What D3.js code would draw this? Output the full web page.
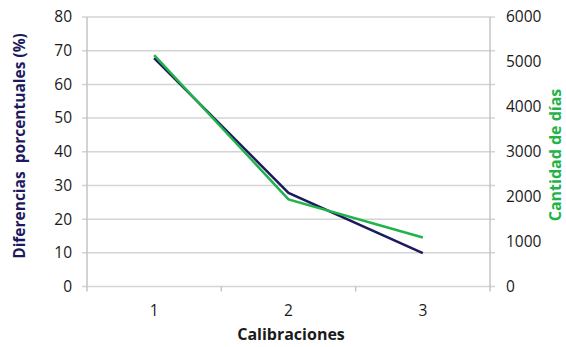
<!DOCTYPE html>
<html>
<head>
<meta charset="utf-8">
<script src="https://cdn.jsdelivr.net/npm/d3@7"></script>
<style>
  html, body { margin: 0; padding: 0; background: #fff; }
  svg { display: block; font-family: "Open Sans", "Noto Sans", sans-serif; }
</style>
</head>
<body>
<svg id="chart" width="566" height="347"></svg>
<script>
// Calibration rounds and the two measured series
const categories = ["1", "2", "3"];
const diffPercent = [67.8, 27.8, 9.9];      // left axis, %
const dayCount = [5150, 1940, 1090];        // right axis, days
const leftTicks = [0, 10, 20, 30, 40, 50, 60, 70, 80];
const rightTicks = [0, 1000, 2000, 3000, 4000, 5000, 6000];

const navy = "#1c1a5c";
const green = "#1fb34a";
const gridColor = "#d4d4d4";
const axisColor = "#c4c4c4";
const textColor = "#1a1a1a";

const svg = d3.select("#chart");
const plot = { left: 87, right: 490, top: 17, bottom: 286.5 };

const x = d3.scaleBand().domain(categories).range([plot.left, plot.right]);
const yL = d3.scaleLinear().domain([0, 80]).range([plot.bottom, plot.top]);
const yR = d3.scaleLinear().domain([0, 6000]).range([plot.bottom, plot.top]);

// Horizontal gridlines (with short outer ticks on both sides)
svg.append("g").selectAll("line").data(leftTicks).join("line")
  .attr("x1", plot.left - 5).attr("x2", plot.right + 5)
  .attr("y1", d => yL(d)).attr("y2", d => yL(d))
  .attr("stroke", gridColor).attr("stroke-width", 1.5);

// Axis lines
svg.append("line").attr("x1", plot.left).attr("x2", plot.left)
  .attr("y1", plot.top).attr("y2", plot.bottom + 5)
  .attr("stroke", axisColor).attr("stroke-width", 1.5);
svg.append("line").attr("x1", plot.right).attr("x2", plot.right)
  .attr("y1", plot.top).attr("y2", plot.bottom + 5)
  .attr("stroke", axisColor).attr("stroke-width", 1.5);

// Category boundary ticks on the bottom axis
const bounds = categories.slice(1).map(c => x(c));
svg.append("g").selectAll("line").data(bounds).join("line")
  .attr("x1", d => d).attr("x2", d => d)
  .attr("y1", plot.bottom).attr("y2", plot.bottom + 5)
  .attr("stroke", axisColor).attr("stroke-width", 1.5);

// Left tick labels
svg.append("g").selectAll("text").data(leftTicks).join("text")
  .attr("x", 72).attr("y", d => yL(d)).attr("dy", "0.35em")
  .attr("text-anchor", "end").attr("font-size", 15.5).attr("fill", textColor)
  .text(d => d);

// Right tick labels
svg.append("g").selectAll("text").data(rightTicks).join("text")
  .attr("x", 506).attr("y", d => yR(d)).attr("dy", "0.35em")
  .attr("text-anchor", "start").attr("font-size", 15.5).attr("fill", textColor)
  .text(d => d);

// Category labels
svg.append("g").selectAll("text").data(categories).join("text")
  .attr("x", d => x(d) + x.bandwidth() / 2).attr("y", 316)
  .attr("text-anchor", "middle").attr("font-size", 15.5).attr("fill", textColor)
  .text(d => d);

// Axis titles
svg.append("text")
  .attr("x", 291).attr("y", 340)
  .attr("text-anchor", "middle").attr("font-size", 16).attr("font-weight", "bold")
  .attr("fill", textColor).text("Calibraciones");

svg.append("text")
  .attr("transform", "translate(25,146) rotate(-90)")
  .attr("text-anchor", "middle").attr("font-size", 15.5).attr("font-weight", "bold")
  .attr("fill", navy).attr("xml:space", "preserve")
  .text("Diferencias  porcentuales (%)");

svg.append("text")
  .attr("transform", "translate(561,155) rotate(-90)")
  .attr("text-anchor", "middle").attr("font-size", 16).attr("font-weight", "bold")
  .attr("fill", green).text("Cantidad de días");

// Series lines
const cx = d => x(d) + x.bandwidth() / 2;
const lineL = d3.line().x((d, i) => cx(categories[i])).y(d => yL(d));
const lineR = d3.line().x((d, i) => cx(categories[i])).y(d => yR(d));

svg.append("path").datum(diffPercent).attr("d", lineL)
  .attr("fill", "none").attr("stroke", navy).attr("stroke-width", 2.5);
svg.append("path").datum(dayCount).attr("d", lineR)
  .attr("fill", "none").attr("stroke", green).attr("stroke-width", 2.5);
</script>
</body>
</html>
